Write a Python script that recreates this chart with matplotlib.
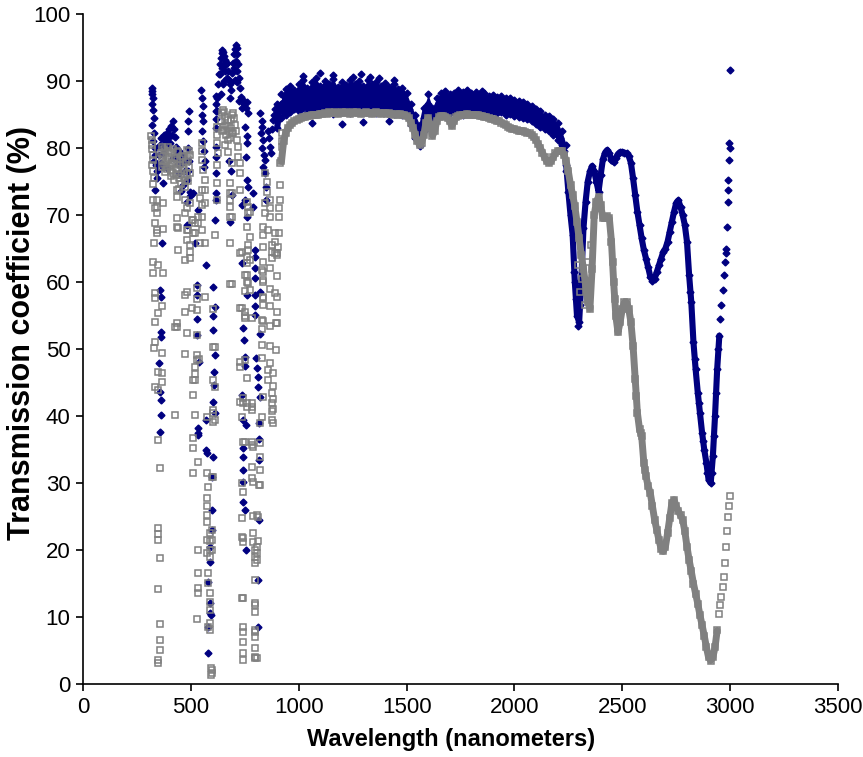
import numpy as np
import matplotlib
matplotlib.use('Agg')
import matplotlib.pyplot as plt

# --- smooth part of the spectra, 10 nm steps -------------------------------
# grey (hollow squares)
grey_900 = [64, 71, 78, 81, 82.3, 83, 83.4, 83.7, 84, 84.2,
            84.4, 84.5, 84.6, 84.7, 84.8, 84.8, 84.9, 84.9, 85, 85,
            85.1, 85.1, 85.2, 85.1, 85.3, 85.2, 85.2, 85.3, 85.1, 85.2,
            85.3, 85.2, 85.3, 85.2, 85.1, 85.3, 85.2, 85.3, 85.2, 85.1,
            85.2, 85.3, 85.2, 85.2, 85.1, 85.2, 85.3, 85.2, 85.1, 85.2,
            85.2, 85.1, 85.2, 85.1, 85.0, 85.1, 85.0, 85.1, 85.0, 84.9]
grey_1500 = [84.8, 84.5, 83.8, 83, 82, 81, 80.5, 80.8, 82, 83.8,
             84.5, 83.5, 81.8, 82.5, 84, 84.6, 84.8, 84.8, 84.7, 84.5,
             84, 83.3, 84, 84.6, 84.8, 84.9, 85, 85, 85.1, 85,
             85, 85, 84.9, 84.9, 84.8, 84.8, 84.7, 84.6, 84.5, 84.4,
             84.3, 84.2, 84.1, 84, 83.8, 83.6, 83.4, 83.2, 83, 82.9,
             82.8, 82.7, 82.6, 82.6, 82.5, 82.4, 82.3, 82.2, 82, 81.6,
             81.2, 80.6, 80, 79.3, 78.6, 78, 77.8, 78, 78.6, 79.2,
             79.5, 79.6, 79.5, 79, 78]
grey_2250 = [76.5, 74.5, 73, 71.3, 69, 66.5, 64, 62, 59.5, 57,
             56, 62, 70, 72, 72.7, 71.5, 69.5, 69.5, 69.8, 69.5,
             66, 60, 55, 52.5, 54, 56, 57, 57, 56, 54,
             50.5, 45.5, 40.5, 38, 37, 33, 31, 29.5, 28.5, 26.5,
             24.5, 23, 21.5, 20.2, 19.8, 20.5, 22.5, 24.8, 27, 27.5,
             26.5, 25.8, 25.2, 24.5, 22.8, 20.5, 18.5, 16.8, 15, 13.5,
             12, 10.3, 8.8, 7.2, 5.5, 4, 3.5, 4, 5.5, 8,
             10.5, 13, 16, 20.5, 25, 28]

# blue (filled diamonds), centre of the band
blue_900 = [83, 85.5, 86.5, 86.8, 87, 87.2, 87.5, 87.3, 87.6, 87.4,
            87.8, 87.5, 87.9, 87.6, 87.4, 87.8, 87.5, 87.7, 87.3, 87.6,
            87.9, 87.4, 87.6, 87.8, 87.3, 87.7, 87.5, 87.9, 87.4, 87.6,
            87.5, 87.8, 87.3, 87.6, 87.9, 87.4, 87.7, 87.5, 87.8, 87.4,
            87.6, 87.3, 87.7, 87.5, 87.8, 87.4, 87.6, 87.3, 87.5, 87.7,
            87.4, 87.6, 87.3, 87.5, 87.2, 87.4, 87.1, 87.3, 87, 86.8]
blue_1500 = [86.5, 85.8, 85, 84.2, 83, 82, 81.5, 82.5, 84.5, 86,
             86.5, 85.5, 84, 84.5, 86, 86.7, 86.9, 86.8, 86.7, 86.8,
             86.4, 86, 86.5, 86.8, 86.9, 86.8, 87, 86.9, 86.8, 86.9,
             86.8, 86.9, 86.7, 86.8, 86.6, 86.7, 86.6, 86.5, 86.6, 86.4,
             86.5, 86.3, 86.4, 86.2, 86.3, 86.1, 86.2, 86, 86.1, 85.9,
             86, 85.8, 85.9, 85.7, 85.6, 85.5, 85.3, 85, 84.8, 84.6,
             84.4, 84.2, 84, 83.8, 83.5, 83.3, 83, 82.8, 82.5, 82.3,
             82, 81.5, 80.5, 79.5, 77.5]
blue_2250 = [73.5, 70, 67, 60, 55, 54, 60, 68, 72, 75,
             76.5, 77.3, 76.5, 75, 73.5, 76, 78.3, 79.3, 79.7, 79.2,
             78.2, 77.9, 78.5, 79.1, 79.4, 79.4, 79.3, 79.2, 78.8, 77.8,
             75.5, 73, 70.5, 68.5, 66.5, 64.8, 63.5, 62.2, 60.8, 60.2,
             60.5, 61.5, 62.5, 63.5, 64.5, 65, 66, 67.5, 69, 70.5,
             71.8, 72.2, 71.2, 70, 68.5, 66, 61, 57, 51, 47,
             43.5, 40.5, 37.5, 35, 33, 30.5, 30, 34, 40, 47,
             52, 56.5, 61, 65, 72, 80]

# blue band upper / lower edge, 20 nm steps from 920 nm
blue_hi = [88, 88.8, 89.2, 88.6, 89.5, 90.2, 89, 89.8, 90.4, 89.3,
           90, 89.5, 90.3, 89.1, 89.8, 89.4, 90.2, 89.6, 90, 89.2,
           90.1, 89.5, 89.9, 89.3, 89.7, 89.1, 89.5, 88.8, 89, 88.2,
           86.5, 85, 83.5, 86, 88, 86, 87.5, 88.2, 88.5, 88,
           88.2, 88.6, 88.3, 88.5, 88.2, 88.4, 88, 88.2, 87.8, 87.9,
           87.6, 87.8, 87.4, 87.5, 87.2, 87, 86.8, 86.5, 86.2, 85.8,
           85.5, 85, 84.8, 84.3, 83.8, 82.5, 80.5]
blue_lo = [84.5, 85, 85.3, 85.8, 85.5, 86, 85.2, 85.8, 85.4, 86,
           85.3, 85.8, 85.1, 85.7, 85.4, 85.9, 85.2, 85.6, 85.3, 85.8,
           85.4, 85.7, 85.2, 85.6, 85.3, 85.5, 85.1, 85.4, 85, 84.8,
           83.5, 81.5, 80.3, 82.5, 85.3, 82.5, 84.8, 85.5, 85.6, 85.2,
           85.4, 85.7, 85.6, 85.8, 85.6, 85.7, 85.5, 85.6, 85.4, 85.5,
           85.2, 85.3, 85, 85.1, 84.8, 84.7, 84.5, 84.3, 84, 83.6,
           83.2, 82.8, 82.5, 82, 81.2, 79.5, 76.5]

# --- noisy visible part (300-900 nm) and stray points, (nm, %) -------------
blue_pts = [
    (318, 89), (320, 88.5), (322, 88), (325, 87.5), (320, 86.5), (323, 85.7),
    (327, 84.5), (320, 83.4), (330, 82.3), (325, 81), (333, 80), (336, 79),
    (330, 78), (340, 77.5), (345, 76.5), (334, 73.7), (343, 75.5),
    (352, 79), (357, 80.5), (362, 81.5), (366, 80), (371, 79.3), (376, 82),
    (380, 81), (385, 80.2), (390, 82.3), (395, 81.5), (400, 82.8), (404, 80.7),
    (408, 83.3), (412, 82), (417, 84), (420, 82.8), (425, 81.6), (430, 80.2),
    (434, 79.1), (438, 78.3), (442, 77.6), (447, 79.5), (451, 78.4), (455, 77.8),
    (460, 79), (464, 77.9), (470, 78.5), (475, 76.5), (480, 75.2), (372, 77.2),
    (360, 77.8), (390, 77), (415, 78.5), (445, 76.2), (455, 73.6), (465, 74.5),
    (485, 82.5), (487, 84), (490, 85.5), (488, 80), (492, 78), (485, 76.5),
    (495, 73.5), (480, 72), (482, 68.5), (496, 72.8), (510, 73.3),
    (371, 74.8), (366, 65.8), (357, 58.8), (362, 57.8), (362, 52.5), (362, 51.8),
    (352, 47.9), (357, 43.6), (362, 42.4), (362, 40.1), (357, 37.6),
    (548, 88.6), (552, 87.5), (556, 86.2), (552, 85), (558, 84), (552, 82.5),
    (556, 81), (560, 79.5), (566, 78), (560, 77.2),
    (533, 70.7), (519, 65.8), (570, 62.5), (529, 59.6), (529, 58.1), (529, 54.5),
    (529, 52.1), (538, 48.1), (533, 38.2), (533, 37.2), (533, 37.5), (570, 39.4),
    (570, 34.9), (575, 34.5),
    (615, 87.8), (615, 86.5), (617, 85.5), (615, 84.3), (617, 83), (615, 80.1),
    (617, 78.6), (615, 76.3), (617, 73.3), (615, 72.2), (612, 69.3),
    (603, 59.3), (612, 56.3), (603, 55), (603, 52.8), (612, 49.1), (607, 46.6),
    (607, 44.6), (603, 42.1), (612, 40.4), (603, 33.9), (598, 30.9), (598, 26),
    (598, 23), (589, 20.4), (589, 18.2), (580, 15.2), (589, 12.1), (593, 10.3),
    (589, 10.6), (580, 8.5), (580, 4.6),
    (620, 85.5), (623, 87.5), (626, 89.5), (630, 91), (634, 92.5), (638, 93.5),
    (642, 94.2), (646, 94.6), (650, 94.3), (655, 93.8), (660, 93.2), (664, 92.6),
    (668, 92.7), (672, 91.5), (676, 90.2), (680, 89.5), (684, 88.7), (688, 89.8),
    (692, 91.2), (696, 92.7), (700, 94), (704, 94.8), (708, 95.3), (712, 95),
    (716, 94), (720, 92.5), (724, 90.5), (728, 89), (732, 87.6), (636, 91),
    (644, 92), (652, 92.6), (660, 91.5), (668, 90.5), (700, 92), (710, 93),
    (715, 91.5), (705, 90.2), (640, 88), (648, 89.5), (655, 90), (680, 87.5),
    (712, 89.8), (722, 87), (735, 86), (675, 78), (685, 76.5), (690, 73),
    (680, 69),
    (742, 87.2), (748, 86.5), (755, 86), (760, 86.8), (765, 85.2), (750, 83.1),
    (758, 81.8), (762, 80.7), (755, 78.6), (760, 75.2), (765, 74.2), (752, 72.2),
    (788, 73.3), (737, 71.5), (788, 71.2), (760, 69.7), (797, 64.8), (797, 63.7),
    (797, 62.1), (737, 62.8), (797, 60.6), (820, 58.5), (760, 58.1), (797, 58.1),
    (797, 56.4), (797, 55.1), (742, 53.1), (820, 52.2), (746, 51.3), (802, 48.7),
    (751, 48.8), (751, 47.5), (807, 47.2), (811, 45.8), (811, 44.3), (820, 42.8),
    (737, 43.1), (742, 39.4), (756, 38.7), (816, 39), (816, 36.6), (742, 35.2),
    (742, 33.9), (816, 33.4), (742, 31.9), (742, 30.1), (742, 27.2), (751, 26),
    (816, 24.5), (756, 20), (811, 15.5), (811, 8.5),
    (822, 85.2), (828, 84), (832, 83.2), (826, 82.2), (835, 81.2), (830, 80),
    (838, 79), (842, 78.2), (836, 77.2), (845, 76.3), (850, 74.2), (848, 72.2),
    (858, 82.5), (862, 81.5), (866, 80.2), (870, 79.3), (874, 82.8), (880, 84.2),
    (886, 85), (892, 85.8), (898, 86.5),
    (1020, 90.8), (1100, 91.2), (1160, 90.9), (1250, 90.6), (1290, 91),
    (1330, 90.6), (1370, 90.4), (1440, 90.1), (1200, 83.6), (1060, 83.8),
    (1300, 83.9), (1420, 84), (1780, 88.6), (1850, 88.5), (1760, 84.9),
    (2275, 61.5), (2285, 57.5), (2295, 53.5), (2305, 56.5), (2815, 58.5),
    (2835, 48.5), (2855, 42), (2875, 36.3), (2895, 31.5), (2915, 31.5),
    (2925, 37), (2935, 43.5), (2945, 50),
    (2955, 54.5), (2965, 58.8), (2975, 63), (2983, 64.3), (2986, 68.2),
    (2988, 73.7), (2990, 75.2), (2993, 78.2), (2995, 80.7), (2998, 91.7),
]

grey_pts = [
    (315, 81.8), (318, 81.2), (320, 80.5), (322, 79.8), (324, 79), (326, 78.2),
    (320, 77.5), (325, 76.5), (330, 75.5), (325, 74.7), (325, 72.2), (334, 71),
    (343, 70.3), (334, 68.8), (343, 67.8), (329, 65.8), (325, 63), (348, 62.5),
    (325, 61.3), (334, 58.3), (334, 57.6), (348, 55.4), (334, 54), (334, 51),
    (329, 50.1), (348, 46.6), (334, 44.3), (348, 43.9), (348, 36.4), (357, 32.2),
    (348, 23.3), (348, 22.4), (348, 21.5), (357, 18.8), (348, 14.2), (357, 9),
    (357, 6.6), (357, 5.1), (348, 3.6), (348, 3.1), (343, 72.2), (343, 71.2),
    (343, 67.3),
    (362, 79.3), (364, 78.2), (366, 77.2), (370, 78.8), (374, 77.6), (378, 76.4),
    (382, 79.5), (386, 78), (390, 76.8), (394, 80.1), (398, 78.7), (402, 77.3),
    (406, 75.8), (410, 79.2), (414, 77.8), (418, 76.3), (422, 75.2), (426, 78.5),
    (430, 77), (434, 79.6), (438, 78.2), (442, 76.8), (446, 75.5), (450, 77.5),
    (454, 76), (458, 78.8), (462, 77.2), (466, 75.6), (470, 76.7), (474, 75.2),
    (478, 77.9), (482, 79.7), (486, 78.4), (490, 77.1), (494, 76.3), (496, 78.9),
    (368, 80.2), (376, 79.8), (384, 77.1), (392, 78.3), (400, 79.6), (408, 76.6),
    (416, 79.9), (424, 77.6), (432, 75.9), (440, 79.4), (448, 78.4), (456, 74.6),
    (464, 78.7), (472, 74.2), (480, 76.1), (488, 75.1), (492, 79.5), (444, 73.9),
    (371, 71.8), (371, 67.9), (436, 72.7), (473, 72.2), (436, 69.6), (482, 71),
    (487, 67.8), (482, 66.3), (441, 68), (505, 69.3), (510, 67.3), (436, 73.7),
    (436, 68.2), (441, 64.8), (496, 71.8), (473, 70.3), (510, 69.3), (482, 67.8),
    (496, 65.5), (496, 64.5), (496, 63.6), (473, 63.3), (519, 68.8), (519, 67.3),
    (542, 65.8), (552, 73.7), (552, 71.5), (552, 69.7), (533, 68.8), (529, 59.1),
    (529, 57.4), (529, 55.8), (482, 58.5), (473, 58.1), (473, 55.5), (505, 56.1),
    (436, 53.3), (482, 52.4), (529, 52.1), (371, 61.3), (366, 56.4), (436, 53.9),
    (427, 53.3), (366, 49.4), (473, 49.3), (538, 48.5), (529, 49.1), (529, 48.4),
    (519, 47.3), (519, 46.3), (519, 45.4), (510, 45.4), (510, 43.1), (519, 40.1),
    (366, 46.4), (366, 45.1), (510, 36.7), (510, 35.2), (533, 33.1), (510, 31.5),
    (533, 20), (533, 16.6), (533, 14.3), (533, 13.6), (529, 9.7), (427, 40.1),
    (552, 80.7), (552, 79.5), (552, 78.2), (556, 76.7), (566, 75.2), (566, 73.7),
    (542, 72.5), (566, 71.8), (533, 69.7), (552, 67.8), (566, 65.8), (566, 57.8),
    (603, 56), (603, 50.3), (612, 50.3), (603, 45.4), (612, 44.3), (603, 40.4),
    (612, 39.4), (575, 39.9), (603, 39.1), (603, 40.9), (575, 31.5), (603, 30.9),
    (598, 30.9), (580, 29.4), (575, 27.8), (575, 26.5), (575, 25.2), (575, 24.2),
    (589, 22.5), (589, 21.3), (589, 20), (598, 23), (598, 21.5), (598, 20),
    (575, 21.5), (575, 19.6), (589, 19), (580, 16.6), (580, 15.1), (589, 13.6),
    (589, 12.3), (589, 11), (589, 9.1), (589, 8.1), (580, 8.5), (598, 2.1),
    (598, 1.6), (593, 2.4), (593, 1.3),
    (612, 67), (621, 83.1), (621, 82), (621, 80.8), (626, 79.3), (621, 77.5),
    (621, 74.8), (621, 72.2), (640, 84), (645, 85.2), (649, 85.7), (653, 85.3),
    (657, 84.6), (660, 83.5), (649, 83.2), (645, 82.5), (653, 82.7), (664, 82),
    (668, 83.3), (672, 84.2), (676, 82.5), (680, 81.5), (684, 83), (688, 84.2),
    (692, 85), (695, 85.2), (699, 84.5), (703, 83.5), (707, 82.5), (690, 82.3),
    (695, 82.2), (672, 81.2), (660, 80.5), (672, 79.4), (690, 77.8), (681, 74.8),
    (690, 73.3), (681, 71.2), (690, 69.7), (681, 69.7), (681, 65.8), (681, 73.3),
    (681, 72.2), (690, 59.7), (681, 59.7),
    (714, 81.2), (718, 80.1), (718, 78.7), (728, 77.8), (728, 76.3), (728, 73.7),
    (728, 64.3), (737, 64.5), (728, 56.1), (737, 56.1), (728, 48.1), (728, 47.3),
    (728, 42.1), (742, 42.7), (742, 41.9), (737, 39.9), (742, 36.1), (737, 30),
    (742, 28.7), (737, 24.8), (742, 21.8), (737, 21.9), (742, 21.2), (742, 12.8),
    (742, 8.5), (742, 7.8), (742, 6.3), (742, 4.6), (742, 3.6), (737, 12.8),
    (760, 72), (765, 71.2), (774, 70.5), (765, 70.3), (760, 68.2), (774, 66.7),
    (765, 65.5), (765, 64.8), (760, 63.7), (760, 62.8), (774, 63.3), (751, 61),
    (760, 61), (765, 59.8), (760, 60), (751, 58.7), (774, 58.8), (751, 55.5),
    (751, 55), (751, 54.6), (783, 54.6), (751, 48.4), (760, 45.7), (760, 41.9),
    (760, 41.3), (783, 41.3), (783, 41.9), (783, 40.9), (751, 36.1), (783, 36.1),
    (783, 35.7), (788, 35.4), (783, 32.4), (783, 30.7), (788, 30.1), (788, 25.1),
    (806, 25.2), (811, 24.9), (788, 22.5), (788, 21.2), (811, 21.3), (797, 20),
    (797, 19), (797, 18), (806, 20.4), (806, 19.5), (806, 18.5), (797, 15.5),
    (797, 11.8), (797, 10.7), (797, 12.1), (797, 8.1), (797, 7.8), (797, 7),
    (797, 5.4), (797, 4), (806, 3.9), (797, 3.9),
    (834, 68.2), (834, 67), (834, 65.2), (844, 76.3), (853, 74.9), (853, 73.4),
    (844, 71.8), (844, 70.3), (858, 67.8), (834, 63), (830, 61.8), (834, 61.5),
    (834, 60.3), (834, 60), (834, 57.8), (834, 57.6), (834, 56.6), (830, 54.3),
    (834, 54.2), (830, 53), (830, 50.6), (830, 48.7), (830, 39.9), (820, 39),
    (834, 42.8), (820, 36), (820, 33.9), (820, 31.9), (816, 29.7), (820, 29.7),
    (867, 72.2), (867, 71), (867, 69.7), (876, 65.5), (876, 64.5), (876, 63.6),
    (867, 62.1), (867, 58.9), (867, 56.4), (867, 53.4), (867, 50.4), (867, 47.9),
    (858, 46.9), (858, 45.4), (876, 43.4), (876, 42), (876, 40.7), (876, 39.4),
    (881, 46.4), (881, 44.5), (881, 42.5), (881, 41), (881, 39), (890, 67.3),
    (890, 66), (890, 64.3), (890, 58.3), (895, 53.9), (895, 49.9), (899, 64.3),
    (899, 60.9), (899, 57.8), (899, 55.5), (899, 53.9), (904, 65.2), (909, 69.7),
    (909, 67.3), (913, 77.8), (913, 74.5), (913, 72.2), (922, 82.2), (922, 81),
    (922, 80.1),
    (2295, 62.5), (2305, 58.5), (2315, 60.5), (2325, 56.5), (2335, 63),
    (2345, 59), (2355, 65.5), (2455, 63), (2465, 57.5), (2565, 43), (2585, 37.5),
    (2605, 32), (2955, 11.8), (2965, 14.5), (2975, 18), (2985, 22.8), (2995, 26.5),
]

x_ticks = [0, 500, 1000, 1500, 2000, 2500, 3000, 3500]
y_ticks = [0, 10, 20, 30, 40, 50, 60, 70, 80, 90, 100]

NAVY = '#000080'
GREY = '#808080'


def steps(start, vals, step=10):
    return np.arange(len(vals)) * step + start


band_x = steps(920, blue_hi, 20)
blue_sx = np.concatenate([steps(900, blue_900), steps(1500, blue_1500), steps(2250, blue_2250)])
blue_sy = np.concatenate([blue_900, blue_1500, blue_2250])
grey_sx = np.concatenate([steps(900, grey_900), steps(1500, grey_1500), steps(2250, grey_2250)])
grey_sy = np.concatenate([grey_900, grey_1500, grey_2250])

blue_x = np.concatenate([blue_sx, band_x, band_x, [p[0] for p in blue_pts]])
blue_y = np.concatenate([blue_sy, blue_hi, blue_lo, [p[1] for p in blue_pts]])
grey_x = np.concatenate([grey_sx, [p[0] for p in grey_pts]])
grey_y = np.concatenate([grey_sy, [p[1] for p in grey_pts]])

plt.rcParams['font.family'] = ['Liberation Sans', 'DejaVu Sans']

fig = plt.figure(figsize=(8.63, 7.57), dpi=100)
ax = fig.add_axes([0.0962, 0.0964, 0.8748, 0.8851])

# blue series: dense band + the spectrum trace, then the markers
ax.fill_between(band_x, blue_lo, blue_hi, color=NAVY, lw=0)
keep = blue_sx <= 2950
ax.plot(blue_sx[keep], blue_sy[keep], color=NAVY, lw=4.4, solid_joinstyle='round',
        solid_capstyle='round')
ax.plot(blue_x, blue_y, linestyle='none', marker='D', ms=3.5,
        color=NAVY, mec=NAVY)

# grey series drawn on top (steep last rise left as separate squares)
gkeep = (grey_sx >= 920) & (grey_sx <= 2945)
ax.plot(grey_sx[gkeep], grey_sy[gkeep], color=GREY, lw=5.0, solid_joinstyle='round',
        solid_capstyle='round')
ax.plot(grey_x, grey_y, linestyle='none', marker='s', ms=4.3,
        mfc='none', mec=GREY, mew=1.1)

ax.set_xlim(0, 3500)
ax.set_ylim(0, 100)
ax.set_xticks(x_ticks)
ax.set_yticks(y_ticks)
ax.tick_params(direction='out', length=5, width=1.2, labelsize=16, pad=4)
for s in ['top', 'right']:
    ax.spines[s].set_visible(False)
for s in ['left', 'bottom']:
    ax.spines[s].set_linewidth(1.2)

fig.text(0.5226, 0.0225, 'Wavelength (nanometers)', fontsize=17,
         fontweight='bold', ha='center', va='center')
fig.text(0.0255, 0.560, 'Transmission coefficient (%)', fontsize=22,
         fontweight='bold', ha='center', va='center', rotation=90)

fig.savefig('out.png', dpi=100)
